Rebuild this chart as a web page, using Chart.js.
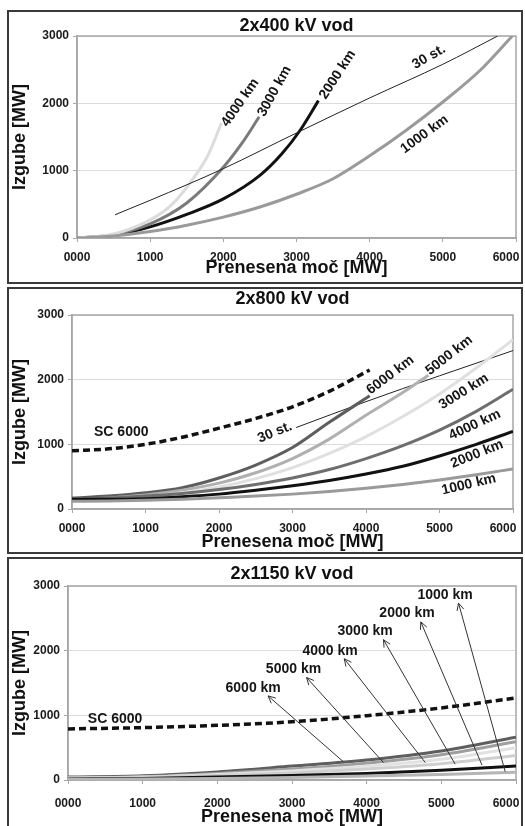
<!DOCTYPE html>
<html>
<head>
<meta charset="utf-8">
<script src="https://cdn.jsdelivr.net/npm/chart.js@4.4.1/dist/chart.umd.min.js"></script>
<style>
  body { margin: 0; background: #fff; width: 525px; height: 826px; overflow: hidden; position: relative; }
  .panel { position: absolute; left: 7px; width: 512px; border: 2px solid #3a3a3a; background: #fff; overflow: hidden; }
  canvas { display: block; }
</style>
</head>
<body>
<div class="panel" style="top:10px;height:270px"><canvas id="c400" width="512" height="270"></canvas></div>
<div class="panel" style="top:287px;height:263px"><canvas id="c800" width="512" height="263"></canvas></div>
<div class="panel" style="top:557px;height:267px"><canvas id="c1150" width="512" height="267"></canvas></div>
<script>
const xTickLabels = ['0000', '1000', '2000', '3000', '4000', '5000', '6000'];
const yTickLabels = ['0', '1000', '2000', '3000'];
const xTitle = 'Prenesena moč [MW]';
const yTitle = 'Izgube [MW]';

// 2x400 kV
const p400x1000 = [0, 500, 1000, 1500, 2000, 2500, 3000, 3500, 4000, 4500, 5000, 5500, 5950];
const p400y1000 = [0, 30, 95, 190, 310, 460, 650, 880, 1220, 1600, 2020, 2480, 3000];
const p400x2000 = [0, 500, 1000, 1500, 2000, 2500, 2800, 3050, 3300];
const p400y2000 = [0, 40, 165, 350, 580, 930, 1250, 1600, 2040];
const p400x3000 = [0, 500, 1000, 1500, 2000, 2250, 2490];
const p400y3000 = [0, 50, 210, 520, 1050, 1400, 1800];
const p400x4000 = [0, 500, 1000, 1300, 1600, 1800, 1975];
const p400y4000 = [0, 60, 270, 500, 900, 1250, 1710];
const p400x30st = [520, 1000, 2000, 3000, 4000, 5000, 5750];
const p400y30st = [345, 560, 1030, 1560, 2080, 2580, 3000];

// 2x800 kV
const p800xSc = [0, 500, 1000, 1500, 2000, 2500, 3000, 3500, 4050];
const p800ySc = [900, 930, 1000, 1110, 1250, 1400, 1580, 1820, 2150];
const p800x6000 = [0, 500, 1000, 1500, 2000, 2500, 3000, 3500, 4050];
const p800y6000 = [170, 200, 250, 330, 480, 680, 950, 1340, 1750];
const p800x5000 = [0, 500, 1000, 1500, 2000, 2500, 3000, 3500, 4000, 4500, 4850];
const p800y5000 = [150, 170, 215, 290, 400, 560, 780, 1080, 1450, 1800, 2070];
const p800xFull = [0, 500, 1000, 1500, 2000, 2500, 3000, 3500, 4000, 4500, 5000, 5500, 6000];
const p800y4000 = [130, 150, 190, 250, 340, 470, 640, 860, 1120, 1430, 1780, 2180, 2620];
const p800y3000 = [160, 170, 200, 240, 300, 380, 480, 610, 780, 980, 1220, 1510, 1850];
const p800y2000 = [150, 150, 160, 190, 230, 290, 360, 440, 540, 660, 820, 1000, 1200];
const p800y1000 = [120, 125, 135, 150, 175, 200, 230, 270, 320, 380, 450, 530, 620];
const p800x30st = [3050, 4000, 5000, 6000];
const p800y30st = [1260, 1660, 2060, 2450];

// 2x1150 kV
const p1150x = [0, 1000, 2000, 3000, 4000, 5000, 6000];
const p1150ySc = [790, 810, 845, 900, 995, 1115, 1270];
const p1150y6000 = [45, 65, 125, 215, 310, 450, 660];
const p1150y5000 = [35, 50, 100, 170, 260, 390, 590];
const p1150y4000 = [30, 45, 85, 140, 215, 320, 500];
const p1150y3000 = [25, 40, 70, 110, 170, 250, 380];
const p1150y2000 = [15, 25, 45, 70, 100, 150, 215];
const p1150y1000 = [10, 15, 25, 40, 60, 85, 120];

// curve labels (data units, angle in degrees)
const p400Notes = [
  { text: '4000 km', x: 2230, y: 2010, angle: 55 },
  { text: '3000 km', x: 2700, y: 2180, angle: 61 },
  { text: '2000 km', x: 3560, y: 2425, angle: 57 },
  { text: '30 st.', x: 4810, y: 2690, angle: 30 },
  { text: '1000 km', x: 4750, y: 1540, angle: 36 },
];
const p800Notes = [
  { text: 'SC 6000', x: 670, y: 1185, angle: 0 },
  { text: '30 st.', x: 2760, y: 1185, angle: 22 },
  { text: '6000 km', x: 4330, y: 2070, angle: 37 },
  { text: '5000 km', x: 5130, y: 2375, angle: 38 },
  { text: '3000 km', x: 5330, y: 1815, angle: 32 },
  { text: '4000 km', x: 5480, y: 1300, angle: 25 },
  { text: '2000 km', x: 5510, y: 850, angle: 22 },
  { text: '1000 km', x: 5400, y: 380, angle: 13 },
];
const p1150Notes = [
  { text: 'SC 6000', x: 630, y: 945, angle: 0 },
  { text: '6000 km', x: 2480, y: 1420, angle: 0 },
  { text: '5000 km', x: 3020, y: 1710, angle: 0 },
  { text: '4000 km', x: 3510, y: 2000, angle: 0 },
  { text: '3000 km', x: 3980, y: 2300, angle: 0 },
  { text: '2000 km', x: 4540, y: 2580, angle: 0 },
  { text: '1000 km', x: 5050, y: 2860, angle: 0 },
];
const p1150Arrows = [
  { fromX: 3690, fromY: 280, toX: 2680, toY: 1300 },
  { fromX: 4225, fromY: 270, toX: 3195, toY: 1585 },
  { fromX: 4785, fromY: 270, toX: 3700, toY: 1875 },
  { fromX: 5185, fromY: 245, toX: 4225, toY: 2170 },
  { fromX: 5545, fromY: 230, toX: 4725, toY: 2445 },
  { fromX: 5855, fromY: 130, toX: 5230, toY: 2735 },
];

const fontFamily = '"Liberation Sans", Arial, sans-serif';

function pts(xs, ys) {
  return xs.map((x, i) => ({ x, y: ys[i] }));
}

function curve(label, xs, ys, color, width, dash) {
  return {
    label,
    data: pts(xs, ys),
    borderColor: color,
    borderWidth: width,
    borderDash: dash || [],
    pointRadius: 0,
    cubicInterpolationMode: 'monotone',
    fill: false,
  };
}

const plotFrame = {
  id: 'plotFrame',
  beforeDatasetsDraw(chart) {
    const { ctx, chartArea: a } = chart;
    ctx.save();
    ctx.strokeStyle = '#a6a6a6';
    ctx.lineWidth = 1.5;
    ctx.strokeRect(a.left, a.top, a.right - a.left, a.bottom - a.top);
    ctx.restore();
  },
};

const curveNotes = {
  id: 'curveNotes',
  afterDatasetsDraw(chart, args, opts) {
    const { ctx, scales: { x, y } } = chart;
    ctx.save();
    ctx.strokeStyle = '#333';
    ctx.lineWidth = 1;
    (opts.arrows || []).forEach((a) => {
      const x0 = x.getPixelForValue(a.fromX), y0 = y.getPixelForValue(a.fromY);
      const x1 = x.getPixelForValue(a.toX), y1 = y.getPixelForValue(a.toY);
      const ang = Math.atan2(y1 - y0, x1 - x0);
      ctx.beginPath();
      ctx.moveTo(x0, y0);
      ctx.lineTo(x1, y1);
      ctx.moveTo(x1 - 8 * Math.cos(ang - 0.45), y1 - 8 * Math.sin(ang - 0.45));
      ctx.lineTo(x1, y1);
      ctx.lineTo(x1 - 8 * Math.cos(ang + 0.45), y1 - 8 * Math.sin(ang + 0.45));
      ctx.stroke();
    });
    ctx.font = 'bold 14px ' + fontFamily;
    ctx.fillStyle = '#151515';
    ctx.textAlign = 'center';
    ctx.textBaseline = 'middle';
    (opts.notes || []).forEach((n) => {
      ctx.save();
      ctx.translate(x.getPixelForValue(n.x), y.getPixelForValue(n.y));
      ctx.rotate(-n.angle * Math.PI / 180);
      ctx.fillText(n.text, 0, 0);
      ctx.restore();
    });
    ctx.restore();
  },
};

// the last x label sits left of its tick in the original, so pad it on the right
function xTickText(v, i) {
  return i === xTickLabels.length - 1 ? xTickLabels[i] + '\u2007\u2007\u2007' : xTickLabels[i];
}

function makePanel(id, title, datasets, notes, arrows, g) {
  const tickFont = { family: fontFamily, size: 12, weight: 'bold' };
  const titleFont = { family: fontFamily, size: 18, weight: 'bold', lineHeight: 1 };
  return new Chart(document.getElementById(id), {
    type: 'line',
    data: { datasets },
    options: {
      responsive: false,
      animation: false,
      events: [],
      layout: { padding: { left: 0, right: g.right, top: 0, bottom: 0 }, autoPadding: false },
      plugins: {
        legend: { display: false },
        tooltip: { enabled: false },
        title: {
          display: true,
          text: title,
          fullSize: false,
          color: '#111',
          font: titleFont,
          padding: { top: g.titleTop, bottom: g.titleBottom },
        },
        curveNotes: { notes, arrows },
      },
      scales: {
        x: {
          type: 'linear',
          min: 0,
          max: 6000,
          afterFit(s) { s.height = g.xAxisH; s.paddingLeft = 0; s.paddingRight = 0; },
          ticks: {
            stepSize: 1000,
            autoSkip: false,
            maxRotation: 0,
            padding: g.tickPad,
            color: '#1a1a1a',
            font: tickFont,
            callback: xTickText,
          },
          grid: { drawOnChartArea: false, tickLength: 4, color: '#a6a6a6' },
          border: { color: '#a6a6a6', width: 1.5 },
          title: { display: true, text: xTitle, color: '#111', font: titleFont, padding: { top: 0, bottom: g.xTitleBottom } },
        },
        y: {
          min: 0,
          max: 3000,
          afterFit(s) { s.width = g.left; },
          ticks: { stepSize: 1000, padding: 4, color: '#1a1a1a', font: tickFont, callback: (v, i) => yTickLabels[i] },
          grid: { color: '#dcdcdc', tickColor: '#a6a6a6', tickLength: 4 },
          border: { color: '#a6a6a6', width: 1.5 },
          title: { display: true, text: yTitle, color: '#111', font: titleFont, padding: { top: 2, bottom: 0 } },
        },
      },
    },
    plugins: [plotFrame, curveNotes],
  });
}

makePanel('c400', '2x400 kV vod', [
  curve('1000 km', p400x1000, p400y1000, '#9a9a9a', 3),
  curve('30 st.', p400x30st, p400y30st, '#222', 1),
  curve('4000 km', p400x4000, p400y4000, '#dcdcdc', 3),
  curve('3000 km', p400x3000, p400y3000, '#7a7a7a', 3),
  curve('2000 km', p400x2000, p400y2000, '#111', 3),
], p400Notes, [], { left: 68, right: 5, xAxisH: 44, titleTop: 5, titleBottom: 1, tickPad: 8, xTitleBottom: 5 });

makePanel('c800', '2x800 kV vod', [
  curve('1000 km', p800xFull, p800y1000, '#9a9a9a', 3),
  curve('2000 km', p800xFull, p800y2000, '#111', 3),
  curve('3000 km', p800xFull, p800y3000, '#6e6e6e', 3),
  curve('4000 km', p800xFull, p800y4000, '#e0e0e0', 3),
  curve('5000 km', p800x5000, p800y5000, '#b0b0b0', 3),
  curve('6000 km', p800x6000, p800y6000, '#5e5e5e', 3),
  curve('30 st.', p800x30st, p800y30st, '#222', 1),
  curve('SC 6000', p800xSc, p800ySc, '#111', 3.5, [7, 4]),
], p800Notes, [], { left: 63, right: 8, xAxisH: 43, titleTop: 1, titleBottom: 7, tickPad: 8, xTitleBottom: 1 });

makePanel('c1150', '2x1150 kV vod', [
  curve('1000 km', p1150x, p1150y1000, '#b5b5b5', 3),
  curve('2000 km', p1150x, p1150y2000, '#111', 3),
  curve('3000 km', p1150x, p1150y3000, '#cfcfcf', 3),
  curve('4000 km', p1150x, p1150y4000, '#e2e2e2', 3),
  curve('5000 km', p1150x, p1150y5000, '#9e9e9e', 3),
  curve('6000 km', p1150x, p1150y6000, '#5e5e5e', 3),
  curve('SC 6000', p1150x, p1150ySc, '#111', 3.5, [7, 4]),
], p1150Notes, p1150Arrows, { left: 59, right: 5, xAxisH: 46, titleTop: 6, titleBottom: 3, tickPad: 12, xTitleBottom: 0 });
</script>
</body>
</html>
